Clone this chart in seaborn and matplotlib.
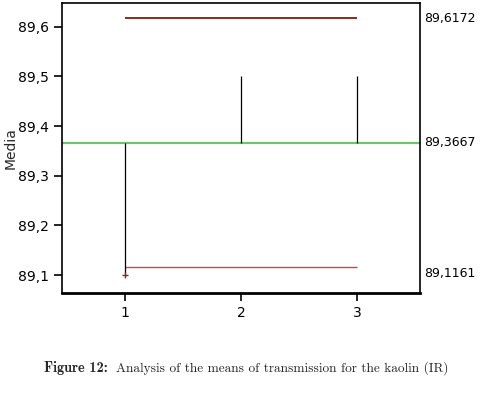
import matplotlib
matplotlib.use("Agg")
import matplotlib.pyplot as plt
import seaborn as sns
import pandas as pd
from matplotlib.ticker import FuncFormatter

# ANOM data
groups = [1, 2, 3]
means = [89.10, 89.50, 89.50]
center = 89.3667
udl = 89.6172
ldl = 89.1161
limit_labels = ["89,6172", "89,3667", "89,1161"]

df = pd.DataFrame({"group": groups, "mean": means})

sns.set_style("white")
plt.rcParams["font.family"] = ["DejaVu Sans"]

fig = plt.figure(figsize=(4.88, 4.0), dpi=100)
ax = fig.add_axes([0.127, 0.2675, 0.734, 0.725])

# decision limits and center line
ax.axhline(center, color="#6cc46c", lw=1.6, zorder=2)
ax.hlines(udl, groups[0], groups[-1], color="#8b2a1e", lw=1.4, zorder=2)
ax.hlines(ldl, groups[0], groups[-1], color="#d8403a", lw=1.0, zorder=2)

# vertical lines from center to each mean
ax.vlines(df["group"], center, df["mean"], color="black", lw=0.9, zorder=3)

out = df[(df["mean"] > udl) | (df["mean"] < ldl)]
sns.scatterplot(data=out, x="group", y="mean", marker="+", s=20,
                color="#8b2a1e", linewidth=1.0, ax=ax, zorder=4)

ax.set_xlim(0.46, 3.54)
ax.set_ylim(89.064, 89.648)
ax.set_xticks(groups)
ax.set_yticks([89.1, 89.2, 89.3, 89.4, 89.5, 89.6])
ax.yaxis.set_major_formatter(FuncFormatter(lambda v, p: f"{v:.1f}".replace(".", ",")))
ax.tick_params(axis="both", direction="out", length=6, width=1.2,
               labelsize=10, colors="black", bottom=True, left=True)
ax.set_xlabel("")
ax.set_ylabel("Media", fontsize=10, labelpad=0)

for s in ax.spines.values():
    s.set_color("black")
    s.set_linewidth(1.2)
ax.spines["bottom"].set_linewidth(2.0)

# limit values on right side
for val, lab, va in zip([udl, center, ldl], limit_labels, ["center", "center", "top"]):
    ax.text(1.012, val, lab, transform=ax.get_yaxis_transform(),
            ha="left", va=va, fontsize=9, color="black")

fig.text(0.09, 0.08, "Figure 12:", fontsize=10.3, family="cmb10",
         ha="left", va="center")
fig.text(0.238, 0.08, "Analysis of the means of transmission for the kaolin (IR)",
         fontsize=9.6, family="cmr10", ha="left", va="center")

fig.savefig("out.png", dpi=100)
